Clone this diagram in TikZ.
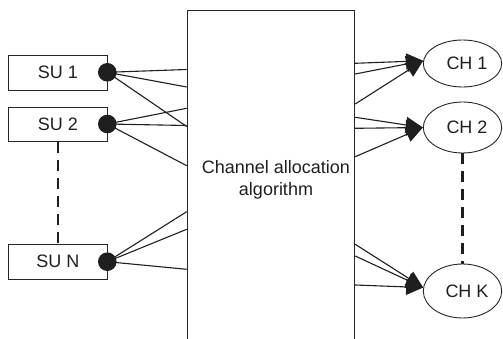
\documentclass[tikz,border=0pt]{standalone}
\usepackage{fontspec}
\setmainfont{Liberation Sans}
\usetikzlibrary{shapes.geometric,arrows.meta}
\begin{document}
\begin{tikzpicture}[x=1pt,y=-1pt,
  every node/.style={font=\fontsize{18}{22.4}\selectfont, text=black!88},
  subox/.style={draw=black!85, line width=0.9pt, rectangle, minimum width=99pt, minimum height=35pt, inner sep=0pt},
  chell/.style={draw=black!85, line width=0.9pt, ellipse, minimum width=78.4pt, inner sep=0pt},
  dotn/.style={circle, fill=black!88, minimum size=18.6pt, inner sep=0pt},
  algbox/.style={draw=black!85, line width=0.9pt, rectangle, minimum width=167.6pt, minimum height=345pt, inner sep=0pt, anchor=north west},
  conn/.style={draw=black!88, line width=1.1pt},
  arr/.style={conn, -{Triangle[length=17pt,width=16pt]}},
  dashv/.style={draw=black!88, line width=2.3pt, dash pattern=on 11pt off 7pt}
]
\clip (0,0) rectangle (503,339);
\node[algbox] (alg) at (186.7,10) {};
\node[align=center, inner sep=0pt] (lbl) at (276,180) {Channel allocation\\algorithm};

\node[subox] (su1) at (57.8,72.5) {SU 1};
\node[subox, minimum height=34.4pt] (su2) at (57.8,124.5) {SU 2};
\node[subox] (sun) at (57.8,261.8) {SU N};

\node[dotn] (d1) at (107.3,72.3) {};
\node[dotn] (d2) at (107.3,124) {};
\node[dotn] (dn) at (107.3,261.7) {};

\node[chell, minimum height=47pt] (ch1) at (462.5,63.5) {\hspace*{9pt}CH 1};
\node[chell, minimum height=51pt] (ch2) at (462.5,127.5) {\hspace*{9pt}CH 2};
\node[chell, minimum height=54pt] (chk) at (462.5,291) {\hspace*{9pt}CH K};

% left connectors
\draw[conn] (d1.center) -- ([yshift=-59.5pt]alg.north west);
\draw[conn] (d1.center) -- ([yshift=-77pt]alg.north west);
\draw[conn] (d1.center) -- ([yshift=-116.5pt]alg.north west);
\draw[conn] (d2.center) -- ([yshift=-98.3pt]alg.north west);
\draw[conn] (d2.center) -- ([yshift=-115.5pt]alg.north west);
\draw[conn] (d2.center) -- ([yshift=-155.7pt]alg.north west);
\draw[conn] (dn.center) -- ([yshift=-201.7pt]alg.north west);
\draw[conn] (dn.center) -- ([yshift=-219.3pt]alg.north west);
\draw[conn] (dn.center) -- ([yshift=-259.3pt]alg.north west);

% right connectors
\draw[arr] ([yshift=-53.3pt]alg.north east) -- (ch1.176);
\draw[arr] ([yshift=-64pt]alg.north east) -- (ch1.176);
\draw[arr] ([yshift=-94pt]alg.north east) -- (ch1.176);
\draw[arr] ([yshift=-107.3pt]alg.north east) -- (ch2.west);
\draw[arr] ([yshift=-118.3pt]alg.north east) -- (ch2.west);
\draw[arr] ([yshift=-146.7pt]alg.north east) -- (ch2.west);
\draw[arr] ([yshift=-234.3pt]alg.north east) -- (chk.175);
\draw[arr] ([yshift=-246pt]alg.north east) -- (chk.175);
\draw[arr] ([yshift=-275pt]alg.north east) -- (chk.175);

% dashed
\draw[dashv] (su2.south) -- (sun.north);
\draw[dashv] (ch2.south) -- (chk.north);
\end{tikzpicture}
\end{document}
